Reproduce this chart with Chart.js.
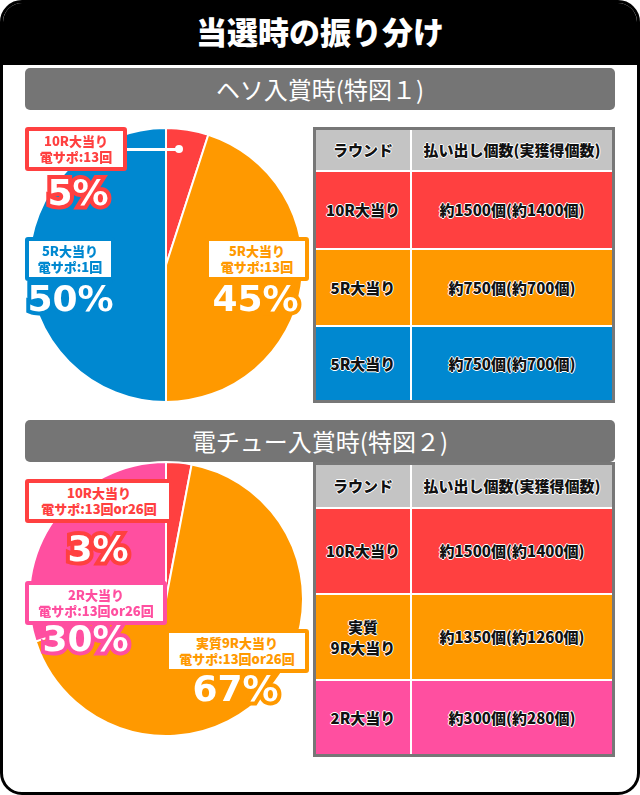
<!DOCTYPE html>
<html><head><meta charset="utf-8">
<script src="https://cdn.jsdelivr.net/npm/chart.js@4"></script>
<style>
body{margin:0;width:640px;height:795px;font-family:"Noto Sans CJK JP",sans-serif;overflow:hidden}
#frame{position:absolute;left:0;top:0;width:634px;height:789px;border:3px solid #000;border-radius:22px;background:#fff;overflow:hidden}
#title{position:absolute;left:0;top:0;width:634px;height:62px;background:#000;color:#fff;font-size:31px;font-weight:900;text-align:center;line-height:56px}
.sec{position:absolute;left:22px;width:590px;height:42px;background:#757575;border-radius:5px;color:#fff;font-size:24px;text-align:center;line-height:42px}
.pie{position:absolute;width:280px;height:280px}
.box{position:absolute;background:#fff;border:4px solid;border-radius:3px;font-size:13px;font-weight:900;text-align:center;line-height:16px;padding:2px 0}
.pct{position:absolute;color:#fff;font-size:36px;font-weight:900;font-family:"DejaVu Sans",sans-serif;-webkit-text-stroke:8px;paint-order:stroke fill;text-align:center;line-height:36px}
table{position:absolute;border-collapse:collapse;border:3px solid #777;font-size:15px;font-weight:900;text-align:center}
td{border:2px solid #fff;color:#111;text-shadow:-1px 0 #fff,1px 0 #fff,0 -1px #fff,0 1px #fff}
.h td{background:#c4c4c4}
</style></head><body>
<div id="frame">
<div id="title">当選時の振り分け</div>
<div class="sec" style="top:65px">ヘソ入賞時(特図１)</div>
<div class="sec" style="top:417px">電チュー入賞時(特図２)</div>
<div class="pie" style="left:23px;top:122px"><canvas id="p1"></canvas></div>
<div class="pie" style="left:23px;top:456px"><canvas id="p2"></canvas></div>
<div style="position:absolute;left:118px;top:145px;width:57px;height:3px;background:#fff"></div>
<div style="position:absolute;left:172px;top:142px;width:8px;height:8px;border-radius:4px;background:#fff"></div>
<div class="box" style="left:22px;top:124px;width:94px;border-color:#ff4040;color:#ff4040">10R大当り<br>電サポ:13回</div>
<div class="pct" style="left:30px;top:172px;width:90px;-webkit-text-stroke-color:#ff4040">5%</div>
<div class="box" style="left:22px;top:234px;width:82px;border-color:#0088d0;color:#0088d0">5R大当り<br>電サポ:1回</div>
<div class="pct" style="left:20px;top:278px;width:95px;-webkit-text-stroke-color:#0088d0">50%</div>
<div class="box" style="left:202px;top:234px;width:96px;border-color:#ff9900;color:#ff9900">5R大当り<br>電サポ:13回</div>
<div class="pct" style="left:205px;top:278px;width:95px;-webkit-text-stroke-color:#ff9900">45%</div>

<div class="box" style="left:22px;top:476px;width:140px;border-color:#ff4040;color:#ff4040">10R大当り<br>電サポ:13回or26回</div>
<div class="pct" style="left:50px;top:528px;width:90px;-webkit-text-stroke-color:#ff4040">3%</div>
<div class="box" style="left:22px;top:578px;width:134px;border-color:#ff4fa0;color:#ff4fa0">2R大当り<br>電サポ:13回or26回</div>
<div class="pct" style="left:35px;top:618px;width:95px;-webkit-text-stroke-color:#ff4fa0">30%</div>
<div class="box" style="left:162px;top:626px;width:136px;border-color:#ff9900;color:#ff9900">実質9R大当り<br>電サポ:13回or26回</div>
<div class="pct" style="left:185px;top:668px;width:95px;-webkit-text-stroke-color:#ff9900">67%</div>

<table id="t1" style="left:310px;top:124px;width:302px"></table>
<table id="t2" style="left:310px;top:459px;width:302px"></table>
</div>
<script>
const pie1Labels=["10R大当り","5R大当り(電サポ13回)","5R大当り(電サポ1回)"];
const pie1Values=[5,45,50];
const pie1Colors=["#ff4040","#ff9900","#0088d0"];
const pie2Labels=["10R大当り","実質9R大当り","2R大当り"];
const pie2Values=[3,67,30];
const pie2Colors=["#ff4040","#ff9900","#ff4fa0"];
const tableHead=["ラウンド","払い出し個数(実獲得個数)"];
const t1Rounds=["10R大当り","5R大当り","5R大当り"];
const t1Payout=["約1500個(約1400個)","約750個(約700個)","約750個(約700個)"];
const t2Rounds=["10R大当り","実質<br>9R大当り","2R大当り"];
const t2Payout=["約1500個(約1400個)","約1350個(約1260個)","約300個(約280個)"];

function pie(id,labels,vals,cols){
  new Chart(document.getElementById(id),{type:'pie',data:{labels,datasets:[{data:vals,backgroundColor:cols,borderColor:'#fff',borderWidth:2}]},
  options:{responsive:false,animation:false,plugins:{legend:{display:false},tooltip:{enabled:false}},layout:{padding:2}}});
}
document.getElementById('p1').width=280;document.getElementById('p1').height=280;
document.getElementById('p2').width=280;document.getElementById('p2').height=280;
pie('p1',pie1Labels,pie1Values,pie1Colors);
pie('p2',pie2Labels,pie2Values,pie2Colors);
function table(id,rounds,pay,cols,hs,rh){
  let h='<tr class="h" style="height:'+hs+'px"><td style="width:92px">'+tableHead[0]+'</td><td>'+tableHead[1]+'</td></tr>';
  rounds.forEach((r,i)=>{h+='<tr style="height:'+rh[i]+'px;background:'+cols[i]+'"><td>'+r+'</td><td>'+pay[i]+'</td></tr>'});
  document.getElementById(id).innerHTML=h;
}
table('t1',t1Rounds,t1Payout,["#ff4040","#ff9900","#0088d0"],42,[78,77,76]);
table('t2',t2Rounds,t2Payout,["#ff4040","#ff9900","#ff4fa0"],44,[86,86,76]);
</script>
</body></html>
